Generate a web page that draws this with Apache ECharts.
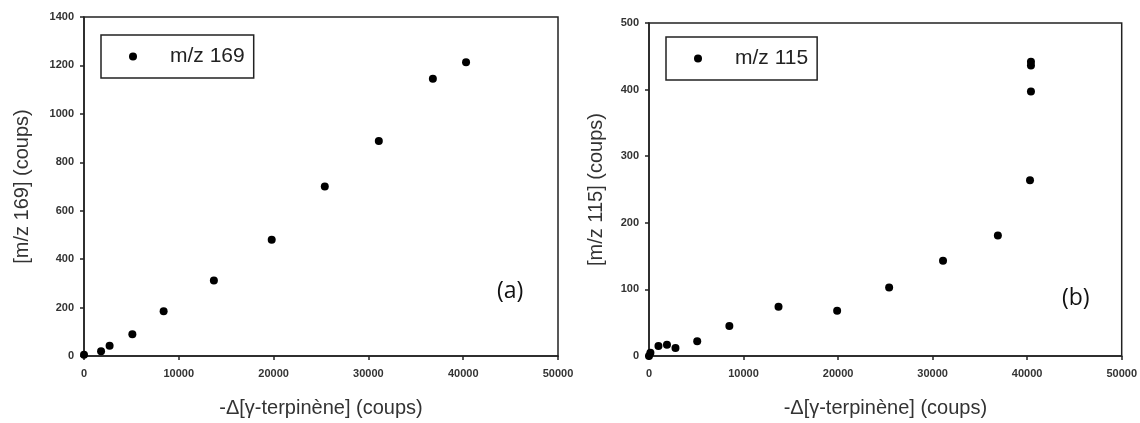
<!DOCTYPE html>
<html>
<head>
<meta charset="utf-8">
<script src="https://cdn.jsdelivr.net/npm/echarts@6/dist/echarts.min.js"></script>
<style>
  html, body { margin: 0; padding: 0; background: #fff; }
  #chart { width: 1140px; height: 423px; }
</style>
</head>
<body>
<div id="chart"></div>
<script>
// (a) m/z 169 vs -Δ[γ-terpinène]
var xA = [0, 1800, 2700, 5100, 8400, 13700, 19800, 25400, 31100, 36800, 40300];
var yA = [5, 20, 42, 90, 185, 312, 480, 700, 888, 1145, 1213];

// (b) m/z 115 vs -Δ[γ-terpinène]
var xB = [0, 150, 1000, 1900, 2800, 5100, 8500, 13700, 19900, 25400, 31100, 36900, 40300, 40400, 40400, 40400];
var yB = [0, 5, 15, 17, 12, 22, 45, 74, 68, 103, 143, 181, 264, 397, 436, 442];

function pairs(xs, ys) {
  var out = [];
  for (var i = 0; i < xs.length; i++) out.push([xs[i], ys[i]]);
  return out;
}

var font = 'Liberation Sans, Arial, sans-serif';
var plain = function (v) { return String(v); };
var tickLbl = { fontSize: 11, fontWeight: 'bold', color: '#333', fontFamily: font, formatter: plain };
var axisLine = { show: true, lineStyle: { color: '#222', width: 1.5 } };
var axisTick = { show: true, length: 4, lineStyle: { color: '#222', width: 1.5 } };

function xAx(idx) {
  return {
    gridIndex: idx, type: 'value', min: 0, max: 50000, interval: 10000,
    name: '-\u0394[\u03B3-terpin\u00E8ne] (coups)', nameLocation: 'middle', nameGap: 42,
    nameTextStyle: { fontSize: 20, color: '#333', fontFamily: font },
    axisLine: axisLine, axisTick: axisTick, axisLabel: Object.assign({ margin: 12 }, tickLbl),
    splitLine: { show: false }
  };
}
function yAx(idx, max, interval, name, gap) {
  return {
    gridIndex: idx, type: 'value', min: 0, max: max, interval: interval,
    name: name, nameLocation: 'middle', nameGap: gap,
    nameTextStyle: { fontSize: 20, color: '#333', fontFamily: font },
    axisLine: axisLine, axisTick: axisTick, axisLabel: Object.assign({ margin: 10 }, tickLbl),
    splitLine: { show: false }
  };
}
function legendAt(left, top, name) {
  return {
    data: [name], left: left, top: top, orient: 'horizontal',
    icon: 'circle', itemWidth: 8, itemHeight: 8,
    borderColor: '#222', borderWidth: 1.5, borderRadius: 0,
    padding: [11, 9, 11, 28],
    textStyle: { fontSize: 21, color: '#222', fontFamily: font, padding: [0, 0, 0, 28], lineHeight: 21 },
    selectedMode: false
  };
}

var chart = echarts.init(document.getElementById('chart'));
chart.setOption({
  animation: false,
  backgroundColor: '#fff',
  title: [
    { text: '(a)', left: 492, top: 275, textStyle: { fontSize: 23, fontWeight: 'normal', color: '#111', fontFamily: 'Open Sans' } },
    { text: '(b)', left: 1057, top: 282, textStyle: { fontSize: 23, fontWeight: 'normal', color: '#111', fontFamily: 'Open Sans' } }
  ],
  legend: [legendAt(101, 35, 'm/z 169'), legendAt(666, 37, 'm/z 115')],
  grid: [
    { left: 84, right: 582, top: 17, bottom: 66, show: true, borderColor: '#222', borderWidth: 1.5 },
    { left: 649, right: 17, top: 23, bottom: 62, show: true, borderColor: '#222', borderWidth: 1.5 }
  ],
  xAxis: [xAx(0), xAx(1)],
  yAxis: [
    yAx(0, 1400, 200, '[m/z 169] (coups)', 52),
    yAx(1, 500, 100, '[m/z 115] (coups)', 43)
  ],
  series: [
    { name: 'm/z 169', type: 'scatter', xAxisIndex: 0, yAxisIndex: 0, symbol: 'circle', symbolSize: 8,
      itemStyle: { color: '#000', opacity: 1 }, data: pairs(xA, yA) },
    { name: 'm/z 115', type: 'scatter', xAxisIndex: 1, yAxisIndex: 1, symbol: 'circle', symbolSize: 8,
      itemStyle: { color: '#000', opacity: 1 }, data: pairs(xB, yB) }
  ]
});
</script>
</body>
</html>
